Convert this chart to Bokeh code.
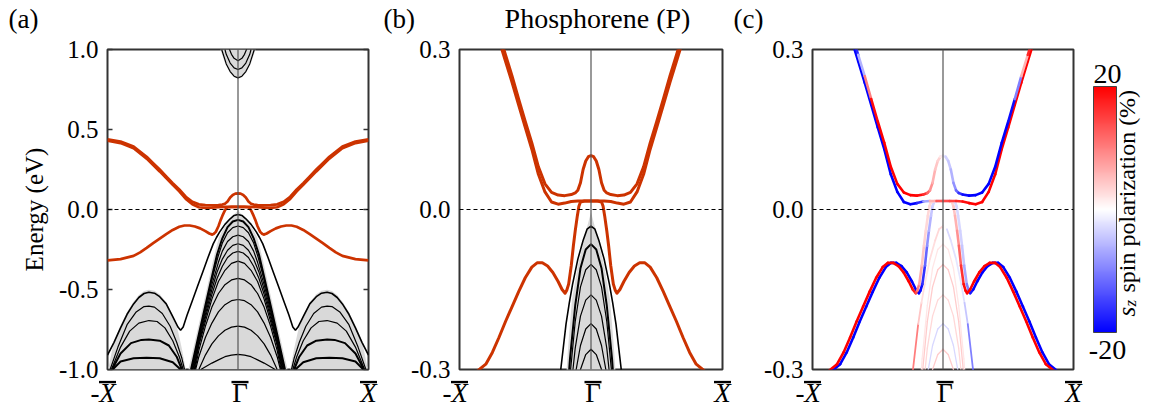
import math
from bokeh.plotting import figure
from bokeh.layouts import row, column
from bokeh.models import (Range1d, FixedTicker, PrintfTickFormatter, Span, Label,
                          LinearAxis, ColumnDataSource, ColorBar, LinearColorMapper)
from bokeh.transform import linear_cmap
from bokeh.core.properties import value
from bokeh.embed import file_html
from bokeh.resources import INLINE

FONT = "Liberation Serif"

# ---------------- data ----------------
K_TICKS = [-1.0, 0.0, 1.0]
K_NAMES = ["X", "\u0393", "X"]
E_TICKS_A = [-1.0, -0.5, 0.0, 0.5, 1.0]
E_TICKS_BC = [-0.3, 0.0, 0.3]
SZ_LOW, SZ_HIGH = -20, 20
TITLES = ["(a)", "(b)", "(c)"]
TITLE_B = "Phosphorene (P)"
CB_TITLE = ["s", "z", "spin polarization (%)"]

# edge-state bands, left half (-X -> Gamma); mirrored to Gamma -> X
A_K = [-1.0, -0.9, -0.8, -0.7, -0.65, -0.6, -0.55, -0.5, -0.45, -0.4, -0.35, -0.3, -0.25,
       -0.2, -0.15, -0.12, -0.1, -0.08, -0.06, -0.04, -0.02, 0.0]
A_E = [0.438, 0.425, 0.393, 0.33, 0.29, 0.25, 0.207, 0.165, 0.125, 0.08, 0.048, 0.032, 0.027,
       0.026, 0.028, 0.031, 0.036, 0.05, 0.075, 0.091, 0.099, 0.101]
B_K = [-1.0, -0.9, -0.8, -0.7, -0.65, -0.6, -0.55, -0.5, -0.45, -0.4, -0.35, -0.3, -0.25,
       -0.2, -0.15, -0.1, -0.05, 0.0]
B_E = [0.43, 0.415, 0.383, 0.318, 0.278, 0.238, 0.196, 0.154, 0.113, 0.066, 0.033, 0.014, 0.01,
       0.012, 0.015, 0.016, 0.016, 0.016]
C_K = [-1.0, -0.9, -0.8, -0.75, -0.7, -0.65, -0.6, -0.55, -0.5, -0.45, -0.41, -0.37, -0.33,
       -0.29, -0.25, -0.22, -0.197, -0.185, -0.17, -0.15, -0.134, -0.12, -0.104, -0.092,
       -0.08, -0.05, 0.0]
C_E = [-0.318, -0.31, -0.29, -0.268, -0.24, -0.21, -0.182, -0.154, -0.128, -0.108, -0.1, -0.1,
       -0.106, -0.118, -0.135, -0.15, -0.157, -0.152, -0.14, -0.105, -0.068, -0.04, -0.012,
       0.006, 0.014, 0.016, 0.016]

# s_z spin polarization (%) along the bands (left half; right half listed from X back to Gamma)
A_SZ_L = [-20, -20, -20, -20, -14, 2, 18, 20, 20, 20, 20, 20, 20, 20, 18, 14, 10, 7, 5, 4, 3, 0]
A_SZ_R = [20, 20, 20, 20, 14, -2, -18, -20, -20, -20, -20, -20, -20, -20, -18, -14, -10, -7, -5, -4, -3, 0]
B_SZ_L = [-20, -20, -20, -20, -20, -20, -20, -20, -20, -20, -20, -20, -20, -20, -14, 0, 12, 14]
B_SZ_R = [20, 20, 20, 20, 20, 20, 20, 20, 20, 20, 20, 20, 20, 20, 18, 16, 14, 14]
C_RED_SZ_L = [20] * 16 + [16, 12, 8, 5, 4, 3, 3, 3, 3, 3, 2]
C_RED_SZ_R = [20] * 16 + [20, 20, 18, 14, 10, 7, 5, 4, 3, 3, 2]
C_BLUE_SZ_L = [-20] * 16 + [-20, -20, -18, -14, -10, -7, -5, -4, -3, -3, -2]
C_BLUE_SZ_R = [-20] * 16 + [-16, -12, -8, -5, -4, -3, -3, -3, -3, -3, -2]

# bulk valence band edge (left half)
E0_K = [-1.0, -0.95, -0.9, -0.85, -0.8, -0.76, -0.72, -0.683, -0.64, -0.6, -0.55, -0.5, -0.46,
        -0.44, -0.42, -0.39, -0.35, -0.31, -0.27, -0.23, -0.19, -0.165, -0.14, -0.1, -0.06,
        -0.03, 0.0]
E0_E = [-0.91, -0.83, -0.74, -0.655, -0.59, -0.55, -0.525, -0.517, -0.523, -0.545, -0.59,
        -0.67, -0.735, -0.755, -0.735, -0.66, -0.57, -0.48, -0.39, -0.3, -0.215, -0.175,
        -0.14, -0.093, -0.058, -0.037, -0.031]
E0_SZ_L = [14] * 20 + [6, 3, 2, 2, 3, 3, 3]
E0_SZ_R = [-14] * 20 + [-6, -3, -2, -2, -3, -3, -3]

# bulk sub-bands around Gamma (half curves from Gamma outwards)
ARC1_K = [0, -0.04, -0.08, -0.12, -0.16, -0.2, -0.25, -0.3, -0.36]
ARC1_E = [-0.065, -0.075, -0.11, -0.18, -0.28, -0.42, -0.6, -0.78, -1.0]
ARC2_K = [0, -0.04, -0.08, -0.12, -0.155, -0.2, -0.25, -0.3, -0.355]
ARC2_E = [-0.103, -0.113, -0.145, -0.21, -0.3, -0.44, -0.615, -0.79, -1.0]
ARC3_K = [0, -0.04, -0.08, -0.12, -0.15, -0.2, -0.25, -0.3, -0.35]
ARC3_E = [-0.16, -0.17, -0.2, -0.26, -0.33, -0.47, -0.635, -0.805, -1.0]
ARC4_K = [0, -0.04, -0.08, -0.12, -0.16, -0.2, -0.25, -0.3, -0.345]
ARC4_E = [-0.214, -0.224, -0.255, -0.31, -0.39, -0.5, -0.655, -0.82, -1.0]
ARC5_K = [0, -0.04, -0.08, -0.12, -0.16, -0.2, -0.25, -0.3, -0.34]
ARC5_E = [-0.262, -0.272, -0.3, -0.355, -0.43, -0.53, -0.675, -0.835, -1.0]
ARC6_K = [0, -0.05, -0.1, -0.15, -0.2, -0.25, -0.3, -0.335]
ARC6_E = [-0.323, -0.337, -0.38, -0.45, -0.56, -0.7, -0.85, -1.0]
ARC7_K = [0, -0.05, -0.1, -0.15, -0.2, -0.25, -0.3, -0.33]
ARC7_E = [-0.43, -0.44, -0.47, -0.525, -0.61, -0.73, -0.88, -1.0]
ARC8_K = [0, -0.05, -0.1, -0.15, -0.2, -0.25, -0.3, -0.325]
ARC8_E = [-0.5625, -0.57, -0.595, -0.64, -0.71, -0.8, -0.92, -1.0]
ARC9_K = [0, -0.05, -0.1, -0.15, -0.2, -0.25, -0.3]
ARC9_E = [-0.729, -0.735, -0.755, -0.79, -0.84, -0.91, -1.0]
ARC10_K = [0, -0.05, -0.1, -0.15, -0.2, -0.285]
ARC10_E = [-0.906, -0.91, -0.92, -0.94, -0.96, -1.0]
ARC_SZ = [2, 4, 3, -3, 4]   # faint polarization of the top five sub-bands

# side-pocket sub-bands (left pocket; right pocket is its mirror)
H2_K = [-0.98, -0.92, -0.85, -0.78, -0.72, -0.683, -0.64, -0.58, -0.52, -0.47, -0.43, -0.41]
H2_E = [-1.0, -0.86, -0.72, -0.64, -0.607, -0.604, -0.61, -0.65, -0.73, -0.83, -0.93, -1.0]
H3_K = [-0.97, -0.9, -0.83, -0.76, -0.683, -0.62, -0.56, -0.5, -0.45, -0.42]
H3_E = [-1.0, -0.86, -0.76, -0.71, -0.694, -0.7, -0.74, -0.82, -0.92, -1.0]
H4_K = [-0.965, -0.9, -0.82, -0.74, -0.683, -0.6, -0.53, -0.47, -0.43]
H4_E = [-1.0, -0.9, -0.835, -0.815, -0.8125, -0.82, -0.85, -0.92, -1.0]
H5_K = [-0.96, -0.9, -0.8, -0.7, -0.6, -0.5, -0.44]
H5_E = [-1.0, -0.95, -0.93, -0.927, -0.93, -0.955, -1.0]

# bulk conduction sub-bands near Gamma (half)
U1_K = [0, -0.03, -0.06, -0.09, -0.125]
U1_E = [0.823, 0.833, 0.862, 0.91, 1.0]
U2_K = [0, -0.03, -0.06, -0.09, -0.1]
U2_E = [0.875, 0.885, 0.915, 0.97, 1.0]
U3_K = [0, -0.03, -0.05, -0.07]
U3_E = [0.93, 0.945, 0.97, 1.01]

# projected bulk continuum outlines (half)
GC_K = [-0.38, -0.34, -0.29, -0.24, -0.2, -0.17, -0.145, -0.1, -0.06, -0.03, 0.0]
GC_E = [-1.0, -0.86, -0.68, -0.5, -0.35, -0.245, -0.17, -0.105, -0.065, -0.033, -0.005]
GS_K = [-0.995, -0.95, -0.9, -0.85, -0.8, -0.76, -0.72, -0.683, -0.64, -0.6, -0.55, -0.5,
        -0.46, -0.43, -0.4]
GS_E = [-1.0, -0.82, -0.725, -0.64, -0.575, -0.535, -0.51, -0.502, -0.508, -0.53, -0.58,
        -0.66, -0.76, -0.87, -1.0]
GU_K = [-0.135, -0.1, -0.065, -0.03, 0.0]
GU_E = [1.0, 0.915, 0.86, 0.826, 0.815]

# ---------------- layout constants ----------------
RED = "#cc3300"
GRAY = "#d9d9d9"
W = 1148
HEAD = 36          # header strip height (panel letters, title)
FOOT = 27          # footer strip height (k-point labels)
TOPB, BOTB = 13, 11
FH = 320
FRAME_L = [107, 459, 812]
FRAME_W = [261, 263, 261]

PALETTE = []
for i in range(256):
    t = i / 255
    if t < 0.5:
        f = t / 0.5
        r = g = int(round(255 * f)); b = 255
    else:
        f = (1 - t) / 0.5
        r = 255; g = b = int(round(255 * f))
    PALETTE.append("#%02x%02x%02x" % (r, g, b))


def mk(kh):
    return list(kh) + [-x for x in reversed(kh[:-1])]


def mv(vl, vr=None):
    vr = vl if vr is None else vr
    return list(vl) + list(reversed(vr[:-1]))


def arc_full(kh, eh):
    kl = list(reversed(kh)); el = list(reversed(eh))
    return mk(kl), mv(el)


ARCS = [(ARC1_K, ARC1_E), (ARC2_K, ARC2_E), (ARC3_K, ARC3_E), (ARC4_K, ARC4_E),
        (ARC5_K, ARC5_E), (ARC6_K, ARC6_E), (ARC7_K, ARC7_E), (ARC8_K, ARC8_E),
        (ARC9_K, ARC9_E), (ARC10_K, ARC10_E)]
HUMPS = [(H2_K, H2_E), (H3_K, H3_E), (H4_K, H4_E), (H5_K, H5_E)]
UPS = [(U1_K, U1_E), (U2_K, U2_E), (U3_K, U3_E)]


def strip(h):
    s = figure(frame_width=W, frame_height=h, x_range=Range1d(0, W), y_range=Range1d(0, h),
               output_backend="svg", toolbar_location=None, min_border=0,
               x_axis_location=None, y_axis_location=None)
    s.grid.visible = False
    s.outline_line_color = None
    s.border_fill_color = "white"
    return s


def base_panel(fw, yr, yticks, bl, br, ticks_in):
    p = figure(frame_width=fw, frame_height=FH, x_range=Range1d(-1, 1),
               y_range=Range1d(*yr), output_backend="svg", toolbar_location=None,
               min_border_left=bl, min_border_right=br, min_border_top=TOPB,
               min_border_bottom=BOTB, x_axis_location=None)
    p.grid.visible = False
    p.outline_line_color = "#333333"
    p.outline_line_width = 2
    p.background_fill_color = "white"
    p.border_fill_color = "white"
    ya = p.yaxis[0]
    ya.ticker = FixedTicker(ticks=yticks)
    ya.formatter = PrintfTickFormatter(format="%.1f")
    ya.minor_tick_line_color = None
    ya.axis_line_color = None
    ya.major_tick_in = 5 if ticks_in else 0
    ya.major_tick_out = 0
    ya.major_tick_line_color = "#333333"
    ya.major_tick_line_width = 1.5
    ya.major_label_text_font = FONT
    ya.major_label_text_font_size = "25px"
    ya.major_label_text_color = "black"
    ya.major_label_standoff = 9
    return p


def add_guides(p):
    p.add_layout(Span(location=0, dimension="height", line_color="#555555", line_width=1.2))
    p.add_layout(Span(location=0, dimension="width", line_color="black", line_width=1.2,
                      line_dash="4 3"))


def add_bulk(p, with_up):
    xs, ys = [], []
    xs.append(mk(GC_K)); ys.append(mv(GC_E))
    xs.append(GS_K); ys.append(GS_E)
    xs.append([-x for x in GS_K]); ys.append(GS_E)
    if with_up:
        xs.append(mk(GU_K)); ys.append(mv(GU_E))
    p.patches(xs, ys, fill_color=GRAY, line_color=None)
    thin_x, thin_y, thick_x, thick_y = [], [], [], []
    for i, (kh, eh) in enumerate(ARCS):
        kx, ey = arc_full(kh, eh)
        if i == 0:
            thick_x.append(kx); thick_y.append(ey)
        else:
            thin_x.append(kx); thin_y.append(ey)
    for i, (kh, eh) in enumerate(HUMPS):
        tgt_x, tgt_y = (thick_x, thick_y) if i >= 2 else (thin_x, thin_y)
        tgt_x.append(list(kh)); tgt_y.append(list(eh))
        tgt_x.append([-x for x in kh]); tgt_y.append(list(eh))
    if with_up:
        for kh, eh in UPS:
            kx, ey = arc_full(kh, eh)
            thin_x.append(kx); thin_y.append(ey)
    p.multi_line(thin_x, thin_y, line_color="black", line_width=1.2)
    p.multi_line(thick_x, thick_y, line_color="black", line_width=2.0)
    p.line(mk(E0_K), mv(E0_E), line_color="black", line_width=1.6)


def add_edge(p, width):
    for kh, eh in [(A_K, A_E), (B_K, B_E), (C_K, C_E)]:
        p.line(mk(kh), mv(eh), line_color=RED, line_width=width, line_join="round")


def add_spin(p, k, e, sz, width):
    src = ColumnDataSource(dict(x0=k[:-1], y0=e[:-1], x1=k[1:], y1=e[1:],
                                sz=[(a + b) / 2 for a, b in zip(sz[:-1], sz[1:])]))
    p.segment("x0", "y0", "x1", "y1", source=src,
              line_color=linear_cmap("sz", PALETTE, SZ_LOW, SZ_HIGH),
              line_width=width, line_cap="round")


# ---------------- header ----------------
head = strip(HEAD)
head.text(x=[8, 383, 733], y=[18, 18, 18], text=TITLES, text_font=value(FONT),
          text_font_size="27px", text_align="left", text_baseline="alphabetic",
          text_color="black")
head.text(x=[597], y=[18], text=[TITLE_B], text_font=value(FONT), text_font_size="28px",
          text_align="center", text_baseline="alphabetic", text_color="black")

# ---------------- panel (a) ----------------
pa = base_panel(261, (-1, 1), E_TICKS_A, 107, 9, True)
pa.yaxis[0].axis_label = "Energy (eV)"
pa.yaxis[0].axis_label_text_font = FONT
pa.yaxis[0].axis_label_text_font_size = "25px"
pa.yaxis[0].axis_label_text_font_style = "normal"
pa.yaxis[0].axis_label_text_color = "black"
pa.yaxis[0].axis_label_standoff = 8
pa.add_layout(LinearAxis(ticker=FixedTicker(ticks=E_TICKS_A), major_label_text_font_size="1px",
                         major_label_text_color=None, major_label_text_alpha=0,
                         major_tick_in=5, major_tick_out=0, axis_line_color=None,
                         minor_tick_line_color=None, major_label_standoff=0,
                         major_tick_line_color="#333333", major_tick_line_width=1.5), "right")
add_bulk(pa, True)
add_guides(pa)
add_edge(pa, 2.7)

# ---------------- panel (b) ----------------
pb = base_panel(263, (-0.3, 0.3), E_TICKS_BC, 82, 8, False)
add_bulk(pb, False)
add_guides(pb)
add_edge(pb, 3.0)

# ---------------- panel (c) ----------------
pc = base_panel(261, (-0.3, 0.3), E_TICKS_BC, 82, 8, False)
for i, (kh, eh) in enumerate(ARCS[:5]):
    kx, ey = arc_full(kh, eh)
    add_spin(pc, kx, ey, [ARC_SZ[i]] * len(kx), 1.3)
add_spin(pc, mk(E0_K), mv(E0_E), mv(E0_SZ_L, E0_SZ_R), 1.8)
C_SHIFT = 0.012
ck = mk(C_K)
add_spin(pc, [x + C_SHIFT for x in ck], mv(C_E), mv(C_BLUE_SZ_L, C_BLUE_SZ_R), 2.6)
add_spin(pc, [x - C_SHIFT for x in ck], mv(C_E), mv(C_RED_SZ_L, C_RED_SZ_R), 2.6)
add_spin(pc, mk(B_K), mv(B_E), mv(B_SZ_L, B_SZ_R), 2.6)
add_spin(pc, mk(A_K), mv(A_E), mv(A_SZ_L, A_SZ_R), 2.6)
add_guides(pc)

# ---------------- colour bar ----------------
pcb = figure(frame_width=67, frame_height=FH, x_range=Range1d(0, 67), y_range=Range1d(0, FH),
             output_backend="svg", toolbar_location=None, min_border_left=0,
             min_border_right=0, min_border_bottom=BOTB, min_border_top=TOPB,
             x_axis_location=None, y_axis_location=None)
pcb.grid.visible = False
pcb.outline_line_color = None
pcb.border_fill_color = "white"
mapper = LinearColorMapper(palette=PALETTE, low=SZ_LOW, high=SZ_HIGH)
cb = ColorBar(color_mapper=mapper, location=(12, 37), width=23, height=246, padding=0,
              margin=0, ticker=FixedTicker(ticks=[]), major_label_text_color=None,
              major_tick_line_color=None, minor_tick_line_color=None,
              bar_line_color="#444444", bar_line_width=1, background_fill_alpha=0,
              border_line_color=None)
pcb.add_layout(cb)
for xx, yy, s in [(26, 296, str(SZ_HIGH)), (26, 20, str(SZ_LOW))]:
    pcb.add_layout(Label(x=xx, y=yy, text=s, text_font=FONT, text_font_size="28px",
                         text_align="center", text_baseline="alphabetic", text_color="black"))
for xx, yy, s, size, style in [(45, 53, CB_TITLE[0], "25px", "italic"),
                               (49, 63, CB_TITLE[1], "17px", "italic"),
                               (45, 77, CB_TITLE[2], "24px", "normal")]:
    pcb.add_layout(Label(x=xx, y=yy, text=s, text_font=FONT, text_font_size=size,
                         text_font_style=style, angle=math.pi / 2, text_align="left",
                         text_baseline="alphabetic", text_color="black"))

# ---------------- footer: k-point labels with over-bars ----------------
foot = strip(FOOT)
lx, ln, gx = [], [], []
for left, width in zip(FRAME_L, FRAME_W):
    for k, name in zip(K_TICKS, K_NAMES):
        px = left + (k + 1) / 2 * width
        if name == "X":
            lx.append(px); ln.append(name)
        else:
            gx.append(px + 2)
TY = 15
foot.text(x=lx, y=[TY] * len(lx), text=ln, text_font=value(FONT), text_font_size="27px",
          text_font_style="italic", text_align="center", text_baseline="alphabetic",
          text_color="black")
foot.text(x=gx, y=[TY] * len(gx), text=["\u0393"] * len(gx), text_font=value(FONT),
          text_font_size="27px", text_align="center", text_baseline="alphabetic",
          text_color="black")
minus_x = [lx[i] - 8 for i in range(0, len(lx), 2)]
foot.text(x=minus_x, y=[TY] * len(minus_x), text=["-"] * len(minus_x), text_font=value(FONT),
          text_font_size="27px", text_align="right", text_baseline="alphabetic",
          text_color="black")
bar_x = lx + gx
foot.rect(x=bar_x, y=[25.5] * len(bar_x), width=17, height=2.6, fill_color="black",
          line_color=None)

layout = column(head, row(pa, pb, pc, pcb), foot)
open("out.html", "w").write(file_html(layout, INLINE))
